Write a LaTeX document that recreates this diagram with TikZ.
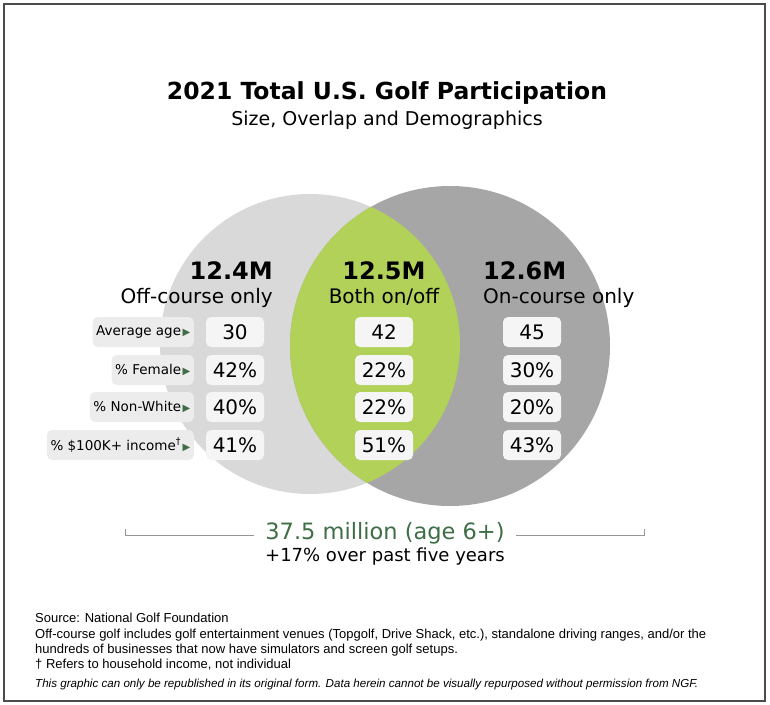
\documentclass[tikz,border=0pt]{standalone}
\usepackage{fontspec}
\setmainfont{DejaVu Sans}
\newfontfamily\notefont{Liberation Sans}
\definecolor{offgray}{RGB}{217,217,217}
\definecolor{ongray}{RGB}{166,166,166}
\definecolor{bothgreen}{RGB}{177,209,88}
\definecolor{textgreen}{RGB}{62,110,70}
\definecolor{boxgray}{RGB}{236,236,236}
\definecolor{valgray}{RGB}{245,245,245}
\definecolor{rulegray}{RGB}{150,150,150}
\newcommand\mylbl[1]{%
  #1\hspace{1.5pt}{\fontsize{10}{10}\selectfont\color{textgreen}▶}%
}

\begin{document}
\begin{tikzpicture}[x=1pt,y=-1pt]
  \useasboundingbox (0,0) rectangle (770,704);
  \draw[black!70,line width=1.2pt] (4,4) rectangle (765,701);

  \tikzstyle{lblbox}=[fill=boxgray,rounded corners=5pt,minimum height=30pt,inner xsep=3.5pt,inner ysep=0pt,font=\fontsize{13.5}{15}\selectfont]
  \tikzstyle{valbox}=[fill=valgray,rounded corners=5pt,minimum height=30pt,minimum width=58pt,inner sep=0pt,font=\fontsize{20}{24}\selectfont]
  \tikzstyle{big}=[inner sep=0pt,font=\fontsize{24}{28}\selectfont\bfseries]
  \tikzstyle{grp}=[inner sep=0pt,font=\fontsize{20}{24}\selectfont]
  \tikzstyle{note}=[inner sep=0pt,anchor=base west,font=\notefont\fontsize{13}{15}\selectfont]

  \node[anchor=base,inner sep=0pt,font=\fontsize{23.5}{28}\selectfont\bfseries] (title) at (387,99) {2021 Total U.S. Golf Participation};
  \node[anchor=base,inner sep=0pt,font=\fontsize{19}{23}\selectfont] (subtitle) at (387,125) {Size, Overlap and Demographics};

  % the two circles and their overlap
  \fill[offgray] (310,344) circle (150pt);
  \fill[ongray] (450,346) circle (160pt);
  \begin{scope}
    \clip (310,344) circle (150pt);
    \fill[bothgreen] (450,346) circle (160pt);
  \end{scope}

  \node[big,anchor=base east] (off-size) at (273,279) {12.4M};
  \node[grp,anchor=base east] (off-name) at (273,303) {Off-course only};
  \node[big,anchor=base] (both-size) at (384,279) {12.5M};
  \node[grp,anchor=base] (both-name) at (384,303) {Both on/off};
  \node[big,anchor=base west] (on-size) at (483,279) {12.6M};
  \node[grp,anchor=base west] (on-name) at (483,303) {On-course only};

  \foreach \name/\y/\text in {age/332/Average age, fem/370/\% Female, nw/407/\% Non-White, inc/445/\% \$100K+ income\textsuperscript{†}}
    \node[lblbox,anchor=east] (lbl-\name) at (194,\y) {\mylbl{\text}};

  \foreach \name/\y/\a/\b/\c in {age/332/30/42/45, fem/370/42\%/22\%/30\%, nw/407/40\%/22\%/20\%, inc/445/41\%/51\%/43\%}
  {
    \node[valbox] (off-\name) at (235,\y) {\a};
    \node[valbox] (both-\name) at (384,\y) {\b};
    \node[valbox] (on-\name) at (532,\y) {\c};
  }

  % total and growth
  \node[anchor=base,inner sep=0pt,text=textgreen,font=\fontsize{22.5}{26}\selectfont] (total) at (385,539) {37.5 million (age 6+)};
  \node[anchor=base,inner sep=0pt,font=\fontsize{18}{22}\selectfont] (growth) at (385,561) {+17\% over past five years};
  \coordinate (ruleL) at (125,535);
  \coordinate (ruleR) at (644,535);
  \draw[rulegray,line width=0.8pt] ([yshift=6pt]ruleL) -- (ruleL) -- ([xshift=-11pt]total.west |- ruleL);
  \draw[rulegray,line width=0.8pt] ([yshift=6pt]ruleR) -- (ruleR) -- ([xshift=11pt]total.east |- ruleR);

  % footnotes
  \node[note] (src) at (35,622) {Source: National Golf Foundation};
  \node[note] (def1) at (35,638) {Off-course golf includes golf entertainment venues (Topgolf, Drive Shack, etc.), standalone driving ranges, and/or the};
  \node[note] (def2) at (35,653) {hundreds of businesses that now have simulators and screen golf setups.};
  \node[note] (dagger) at (35,668) {† Refers to household income, not individual};
  \node[note,font=\notefont\itshape\fontsize{11.6}{14}\selectfont] (rights) at (35,687) {This graphic can only be republished in its original form. Data herein cannot be visually repurposed without permission from NGF.};
\end{tikzpicture}
\end{document}
